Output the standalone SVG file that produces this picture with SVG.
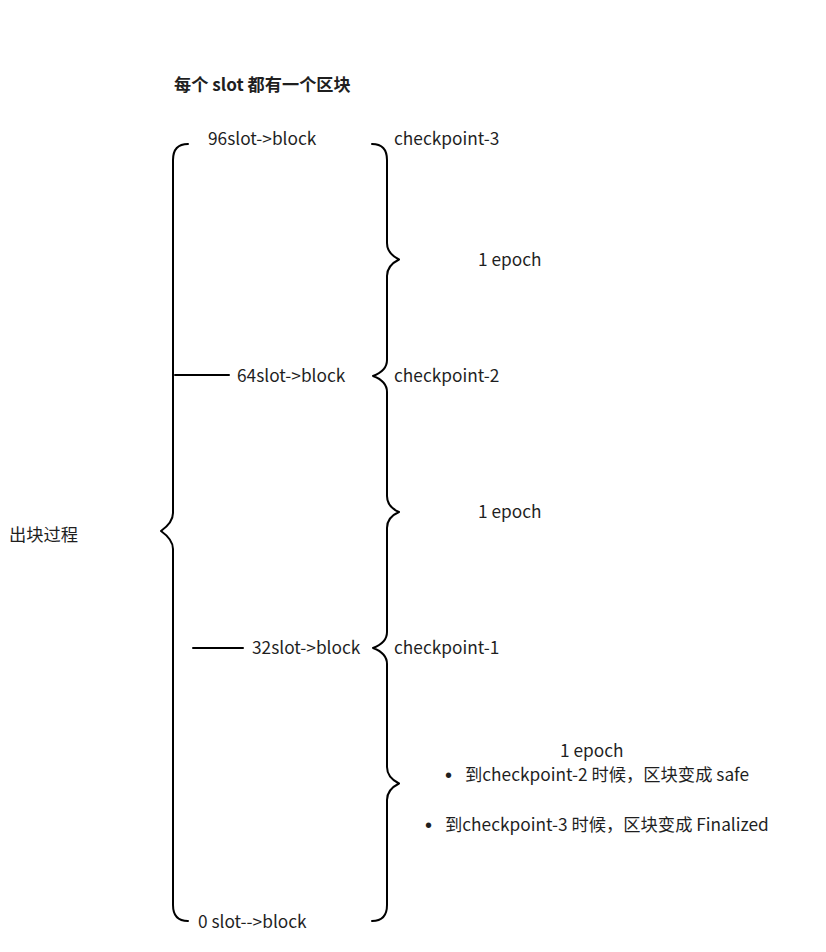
<svg xmlns="http://www.w3.org/2000/svg" width="826" height="952" viewBox="0 0 826 952">
<style>
text{font-family:"Noto Sans CJK SC","Noto Sans",sans-serif;font-size:17.3px;fill:#1f1f1f}
.title{font-weight:bold;font-size:17.2px}
.dot{font-family:"Liberation Sans",Arial,sans-serif;font-size:20px}
.brace{fill:none;stroke:#000;stroke-width:2;stroke-linejoin:round;stroke-linecap:round}
</style>
<rect width="826" height="952" fill="#fff"/>
<g id="title"><text class="title" x="174" y="91">每个 slot 都有一个区块</text></g>
<g id="connectors">
<path class="brace" d="M188,144 C178,144 173,150 173,160 L173,513 C173,521 168,526 161,531 C168,536 173,541 173,549 L173,905 C173,915 178,921 188,921"/>
<path class="brace" d="M372,144 C382,144 387,150 387,160 L387,243 C387,251 392,256 399,259.5 C392,263 387,268 387,276 L387,360 C387,368 381,373 373,376 C381,379 387,384 387,392 L387,496 C387,504 392,509 399,512 C392,515 387,520 387,528 L387,632 C387,640 381,645 373,648 C381,651 387,656 387,664 L387,767 C387,775 392,780 399,783.5 C392,787 387,792 387,800 L387,905 C387,915 382,921 372,921"/>
<line class="brace" x1="175" y1="375" x2="229" y2="375"/>
<line class="brace" x1="193" y1="648" x2="243" y2="648"/>
</g>
<g id="n96"><text x="208" y="145">96slot-&gt;block</text></g>
<g id="cp3"><text x="394" y="145">checkpoint-3</text></g>
<g id="e1"><text x="478" y="266">1 epoch</text></g>
<g id="n64"><text x="237" y="382">64slot-&gt;block</text></g>
<g id="cp2"><text x="394" y="382">checkpoint-2</text></g>
<g id="e2"><text x="478" y="518">1 epoch</text></g>
<g id="proc"><text x="9" y="541">出块过程</text></g>
<g id="n32"><text x="252" y="654">32slot-&gt;block</text></g>
<g id="cp1"><text x="394" y="654">checkpoint-1</text></g>
<g id="e3"><text x="560" y="757">1 epoch</text></g>
<g id="b1"><text class="dot" x="445" y="782">•</text><text x="465" y="781">到checkpoint-2 时候，区块变成 safe</text></g>
<g id="b2"><text class="dot" x="425" y="832">•</text><text x="445" y="831">到checkpoint-3 时候，区块变成 Finalized</text></g>
<g id="n0"><text x="198" y="928">0 slot--&gt;block</text></g>
</svg>
